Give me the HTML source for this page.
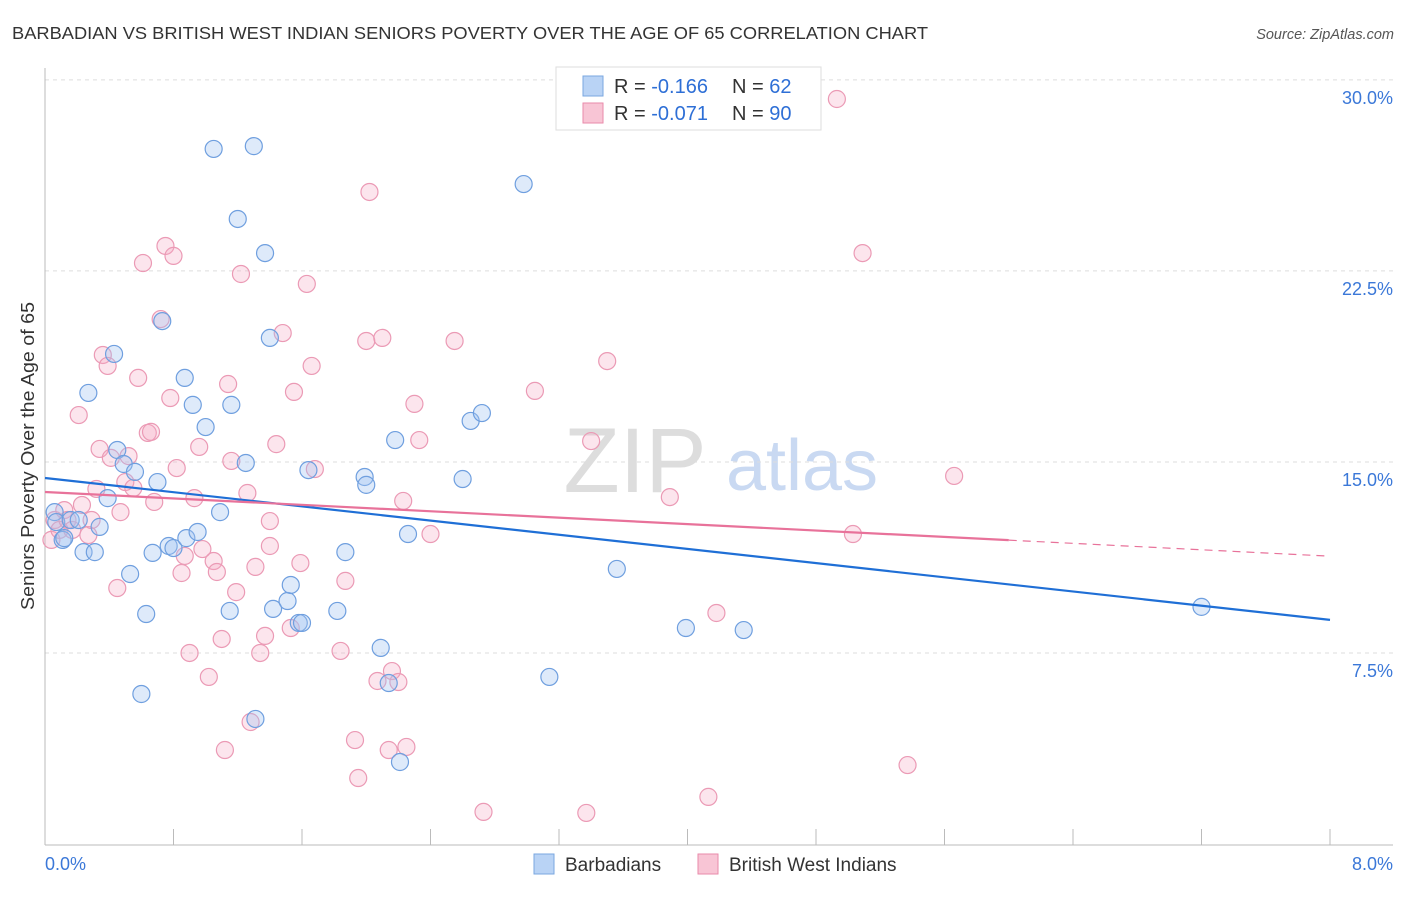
<!DOCTYPE html>
<html><head><meta charset="utf-8"><style>
body{margin:0;background:#fff;font-family:"Liberation Sans",sans-serif;}
svg text{font-family:"Liberation Sans",sans-serif;}
</style></head><body>
<svg id="chart" width="1406" height="892" xmlns="http://www.w3.org/2000/svg">
<text x="12" y="39" font-size="17.5" fill="#333" textLength="916" lengthAdjust="spacingAndGlyphs">BARBADIAN VS BRITISH WEST INDIAN SENIORS POVERTY OVER THE AGE OF 65 CORRELATION CHART</text>
<text x="1394" y="39" font-size="14.5" fill="#555" font-style="italic" text-anchor="end">Source: ZipAtlas.com</text>
<text transform="translate(34,456) rotate(-90)" font-size="18" fill="#333" text-anchor="middle" textLength="308" lengthAdjust="spacingAndGlyphs">Seniors Poverty Over the Age of 65</text>
<g><text x="635" y="492" font-size="92" fill="#ddd" font-family="Liberation Serif" text-anchor="middle">ZIP</text><text x="802" y="490" font-size="72" fill="#c9d9f2" text-anchor="middle">atlas</text></g>
<g id="grid"></g><g id="axes"></g><g id="pts"></g><g id="lines"></g>
<g>
<rect x="556" y="67" width="265" height="63" fill="#fff" stroke="#ddd"/>
<rect x="583" y="76" width="20" height="20" fill="#b9d3f5" stroke="#7aa7e0"/>
<rect x="583" y="103" width="20" height="20" fill="#f8c5d5" stroke="#e98aaa"/>
<text x="614" y="93" font-size="20" fill="#333">R = <tspan fill="#2e6fd6">-0.166</tspan></text>
<text x="732" y="93" font-size="20" fill="#333">N = <tspan fill="#2e6fd6">62</tspan></text>
<text x="614" y="120" font-size="20" fill="#333">R = <tspan fill="#2e6fd6">-0.071</tspan></text>
<text x="732" y="120" font-size="20" fill="#333">N = <tspan fill="#2e6fd6">90</tspan></text>
</g>
<g>
<rect x="534" y="854" width="20" height="20" fill="#b9d3f5" stroke="#7aa7e0"/>
<text x="565" y="871" font-size="19" fill="#333">Barbadians</text>
<rect x="698" y="854" width="20" height="20" fill="#f8c5d5" stroke="#e98aaa"/>
<text x="729" y="871" font-size="19" fill="#333">British West Indians</text>
</g>
</svg>
<script>
const xTicks=[0,0.8,1.6,2.4,3.2,4.0,4.8,5.6,6.4,7.2,8.0];
const yTicks=[7.5,15,22.5,30];
const yTickLabels=["7.5%","15.0%","22.5%","30.0%"];
const xEndLabels=["0.0%","8.0%"];
const blueX=[0.06,0.07,0.11,0.12,0.16,0.21,0.24,0.31,0.34,0.27,0.43,0.45,0.49,0.39,0.56,0.53,0.63,0.60,0.67,0.70,0.73,0.77,0.80,0.87,0.88,0.92,0.95,1.00,1.05,1.09,1.15,1.16,1.20,1.25,1.30,1.31,1.37,1.40,1.42,1.51,1.53,1.58,1.60,1.64,1.82,1.87,1.99,2.00,2.09,2.14,2.18,2.21,2.26,2.60,2.65,2.72,2.98,3.14,3.56,3.99,4.35,7.20];
const blueY=[13.03,12.64,11.94,12.01,12.72,12.72,11.46,11.46,12.45,17.71,19.24,15.47,14.92,13.58,14.61,10.60,9.03,5.89,11.43,14.21,20.53,11.70,11.62,18.30,12.01,17.24,12.25,16.37,27.29,13.03,9.15,17.24,24.54,14.96,27.40,4.91,23.20,19.87,9.23,9.54,10.17,8.68,8.68,14.68,9.15,11.46,14.41,14.10,7.70,6.32,15.86,3.22,12.17,14.33,16.61,16.92,25.91,6.56,10.80,8.48,8.40,9.31];
const pinkX=[0.04,0.06,0.09,0.12,0.14,0.17,0.21,0.23,0.27,0.29,0.32,0.34,0.36,0.39,0.41,0.45,0.47,0.50,0.52,0.55,0.58,0.61,0.64,0.66,0.68,0.72,0.75,0.78,0.80,0.82,0.85,0.87,0.90,0.93,0.96,0.98,1.02,1.05,1.07,1.10,1.12,1.14,1.16,1.19,1.22,1.26,1.28,1.31,1.34,1.37,1.40,1.40,1.44,1.48,1.53,1.55,1.59,1.63,1.66,1.68,1.84,1.87,1.93,1.95,2.00,2.02,2.07,2.10,2.14,2.16,2.20,2.23,2.25,2.30,2.33,2.40,2.55,2.73,3.05,3.37,3.40,3.50,3.89,4.13,4.18,4.93,5.03,5.09,5.37,5.66];
const pinkY=[11.94,12.72,12.33,13.11,12.72,12.33,16.84,13.31,12.13,12.72,13.94,15.51,19.20,18.77,15.16,10.05,13.03,14.21,15.23,13.98,18.30,22.81,16.14,16.18,13.43,20.61,23.48,17.51,23.09,14.76,10.64,11.31,7.50,13.58,15.59,11.58,6.56,11.11,10.68,8.05,3.69,18.06,15.04,9.89,22.38,13.78,4.79,10.88,7.50,8.17,11.70,12.68,15.70,20.06,8.48,17.75,11.03,21.99,18.77,14.72,7.58,10.33,4.08,2.59,19.75,25.60,6.40,19.87,3.69,6.79,6.36,13.47,3.81,17.28,15.86,12.17,19.75,1.26,17.79,1.22,15.82,18.96,13.62,1.85,9.07,29.25,12.17,23.20,3.10,14.45];
const blueTrend=[14.37,8.8];
const pinkTrend=[13.82,11.3];
const pinkSolidEnd=6.0;
const NS="http://www.w3.org/2000/svg";
const X0=45,X1=1330,Y0=844,YS=25.47;
function sx(v){return X0+v/8*(X1-X0);}
function sy(v){return Y0-v*YS;}
function mk(t,a,p){const e=document.createElementNS(NS,t);for(const k in a)e.setAttribute(k,a[k]);p.appendChild(e);return e;}
const grid=document.getElementById('grid'),axes=document.getElementById('axes'),pts=document.getElementById('pts'),lines=document.getElementById('lines');
yTicks.forEach((v,i)=>{
  const l=mk('line',{x1:45,x2:1393,y1:sy(v),y2:sy(v),stroke:'#ddd','stroke-dasharray':'4,4'},grid);
  
  
  const t=mk('text',{x:1393,y:sy(v)+24,'font-size':18,fill:'#3b78d8','text-anchor':'end'},axes);
  t.textContent=yTickLabels[i];
  
  
});
const ax=mk('line',{x1:45,x2:1393,y1:845,y2:845,stroke:'#bbb'},axes);


const ay=mk('line',{x1:45,x2:45,y1:68,y2:845,stroke:'#bbb'},axes);


xTicks.forEach(v=>{
  const t=mk('line',{x1:sx(v),x2:sx(v),y1:845,y2:829,stroke:'#bbb'},axes);
  
  
});
const xl0=mk('text',{x:45,y:870,'font-size':18,fill:'#3b78d8'},axes);xl0.textContent=xEndLabels[0];


const xl1=mk('text',{x:1393,y:870,'font-size':18,fill:'#3b78d8','text-anchor':'end'},axes);xl1.textContent=xEndLabels[1];


pinkX.forEach((v,i)=>{
  const c=mk('circle',{cx:sx(v),cy:sy(pinkY[i]),r:8.5,fill:'rgba(244,170,195,0.3)',stroke:'#eb9ab5','stroke-width':1.2},pts);
  
  
});
blueX.forEach((v,i)=>{
  const c=mk('circle',{cx:sx(v),cy:sy(blueY[i]),r:8.5,fill:'rgba(160,195,240,0.35)',stroke:'#6f9fdf','stroke-width':1.2},pts);
  
  
});
function trendAt(tr,x){return tr[0]+(tr[1]-tr[0])*x/8;}
const bl=mk('line',{x1:sx(0),y1:sy(blueTrend[0]),x2:sx(8),y2:sy(blueTrend[1]),stroke:'#1f6fd6','stroke-width':2.2},lines);


const pl=mk('line',{x1:sx(0),y1:sy(pinkTrend[0]),x2:sx(pinkSolidEnd),y2:sy(trendAt(pinkTrend,pinkSolidEnd)),stroke:'#e8729a','stroke-width':2.2},lines);


const pd=mk('line',{x1:sx(pinkSolidEnd),y1:sy(trendAt(pinkTrend,pinkSolidEnd)),x2:sx(8),y2:sy(pinkTrend[1]),stroke:'#e8729a','stroke-width':1.2,'stroke-dasharray':'8,6'},lines);


</script>
</body></html>
